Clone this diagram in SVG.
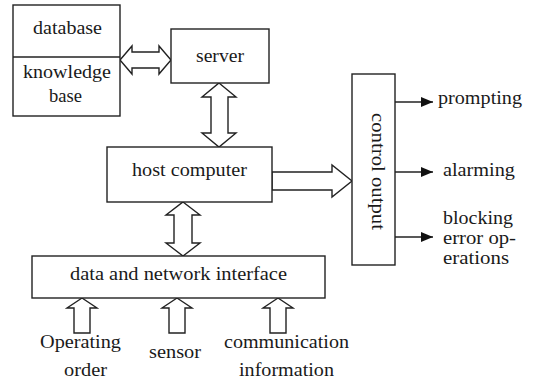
<svg xmlns="http://www.w3.org/2000/svg" width="534" height="380" viewBox="0 0 534 380">
<style>
.box{fill:#fff;stroke:#222;stroke-width:1.4}
.ha{fill:#fff;stroke:#222;stroke-width:1.4;stroke-linejoin:miter}
.ln{stroke:#222;stroke-width:1.4;fill:none}
.t{font-family:"Liberation Serif","Times New Roman",serif;font-size:19.5px;fill:#1a1a1a}
</style>
<defs>
<marker id="ah" viewBox="0 0 12 10" refX="12" refY="5" markerWidth="12" markerHeight="10" markerUnits="userSpaceOnUse" orient="auto">
<path d="M0,0 L12,5 L0,10 Z" fill="#111"/>
</marker>
</defs>
<rect width="534" height="380" fill="#fff"/>
<g id="connectors">
<polygon class="ha" points="120,60 132,46 132,52 159,52 159,46 171,60 159,74 159,68 132,68 132,74"/>
<polygon class="ha" points="219,83 236,97 228,97 228,133 236,133 219,147 202,133 211,133 211,97 202,97"/>
<polygon class="ha" points="183,202 200,215 192,215 192,243 200,243 183,256 166,243 174,243 174,215 166,215"/>
<polygon class="ha" points="272,172 332,172 332,165 352,181 332,197 332,190 272,190"/>
<polygon class="ha" points="82,298 97,308 90,308 90,333 74,333 74,308 67,308"/>
<polygon class="ha" points="177,298 192,308 185,308 185,333 169,333 169,308 162,308"/>
<polygon class="ha" points="278,298 293,308 286,308 286,333 270,333 270,308 263,308"/>
<line class="ln" x1="395" y1="102" x2="433" y2="102" marker-end="url(#ah)"/>
<line class="ln" x1="395" y1="172" x2="433" y2="172" marker-end="url(#ah)"/>
<line class="ln" x1="395" y1="237" x2="433" y2="237" marker-end="url(#ah)"/>
</g>
<g id="database">
<rect class="box" x="13" y="5" width="107" height="111"/>
<line class="ln" x1="13" y1="57" x2="120" y2="57"/>
<text class="t" x="33" y="34" textLength="69" lengthAdjust="spacingAndGlyphs">database</text>
<text class="t" x="23" y="78" textLength="88" lengthAdjust="spacingAndGlyphs">knowledge</text>
<text class="t" x="49" y="102" textLength="33" lengthAdjust="spacingAndGlyphs">base</text>
</g>
<g id="server">
<rect class="box" x="171" y="29" width="98" height="54"/>
<text class="t" x="196" y="62" textLength="48" lengthAdjust="spacingAndGlyphs">server</text>
</g>
<g id="host">
<rect class="box" x="107" y="147" width="165" height="55"/>
<text class="t" x="132" y="176" textLength="115" lengthAdjust="spacingAndGlyphs">host computer</text>
</g>
<g id="control">
<rect class="box" x="352" y="74" width="43" height="191"/>
<text class="t" transform="translate(372,113) rotate(90)" x="0" y="0" textLength="117" lengthAdjust="spacingAndGlyphs">control output</text>
</g>
<g id="interface">
<rect class="box" x="32" y="256" width="293" height="42"/>
<text class="t" x="70" y="280" textLength="217" lengthAdjust="spacingAndGlyphs">data and network interface</text>
</g>
<g id="outputs">
<text class="t" x="438" y="104" textLength="84" lengthAdjust="spacingAndGlyphs">prompting</text>
<text class="t" x="443" y="176" textLength="72" lengthAdjust="spacingAndGlyphs">alarming</text>
<text class="t" x="443" y="224" textLength="70" lengthAdjust="spacingAndGlyphs">blocking</text>
<text class="t" x="443" y="244" textLength="73" lengthAdjust="spacingAndGlyphs">error op-</text>
<text class="t" x="443" y="264" textLength="66" lengthAdjust="spacingAndGlyphs">erations</text>
</g>
<g id="inputs">
<text class="t" x="40" y="348" textLength="81" lengthAdjust="spacingAndGlyphs">Operating</text>
<text class="t" x="64" y="376" textLength="43" lengthAdjust="spacingAndGlyphs">order</text>
<text class="t" x="149" y="358" textLength="52" lengthAdjust="spacingAndGlyphs">sensor</text>
<text class="t" x="224" y="348" textLength="125" lengthAdjust="spacingAndGlyphs">communication</text>
<text class="t" x="239" y="376" textLength="95" lengthAdjust="spacingAndGlyphs">information</text>
</g>
</svg>
